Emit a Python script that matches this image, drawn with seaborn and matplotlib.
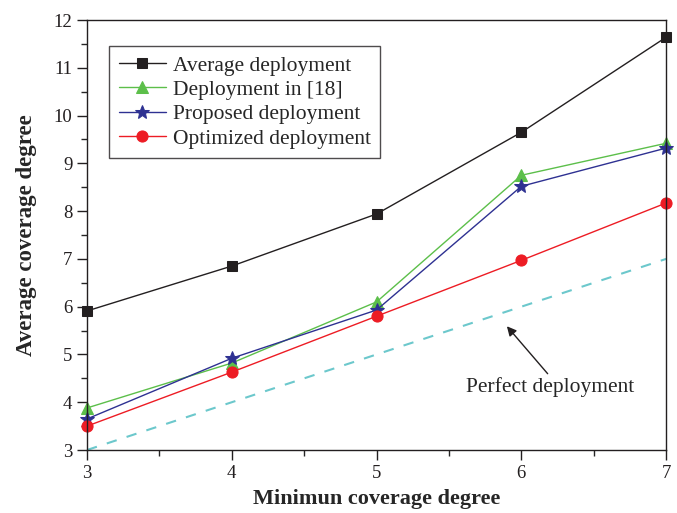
import matplotlib
matplotlib.use("Agg")
import matplotlib.pyplot as plt
import seaborn as sns
from matplotlib.ticker import MultipleLocator

x_vals = [3, 4, 5, 6, 7]
average = [5.91, 6.85, 7.94, 9.65, 11.64]
deploy18 = [3.88, 4.82, 6.10, 8.75, 9.42]
proposed = [3.65, 4.92, 5.93, 8.52, 9.32]
optimized = [3.50, 4.63, 5.80, 6.97, 8.17]
perfect = [3, 4, 5, 6, 7]

labels = ["Average deployment", "Deployment in [18]", "Proposed deployment", "Optimized deployment"]

sns.set_style("ticks")
plt.rcParams['font.family'] = ['Liberation Serif', 'DejaVu Serif']

fig = plt.figure(figsize=(6.77, 5.13), dpi=100)
ax = fig.add_axes([0.1285, 0.1228, 0.8555, 0.8382])

sns.lineplot(x=x_vals, y=average, ax=ax, color="#231f20", marker="s", markersize=7,
             markeredgecolor="#231f20", linewidth=1, label=labels[0], clip_on=False)
sns.lineplot(x=x_vals, y=deploy18, ax=ax, color="#5cbf4a", marker="^", markersize=9,
             markeredgecolor="#5cbf4a", linewidth=1, label=labels[1], clip_on=False)
sns.lineplot(x=x_vals, y=proposed, ax=ax, color="#2e3192", marker="*", markersize=10,
             markeredgecolor="#2e3192", linewidth=1, label=labels[2], clip_on=False)
sns.lineplot(x=x_vals, y=optimized, ax=ax, color="#ed1c24", marker="o", markersize=8,
             markeredgecolor="#ed1c24", linewidth=1, label=labels[3], clip_on=False)
sns.lineplot(x=x_vals, y=perfect, ax=ax, color="#6cc8cc", linestyle=(0, (5, 5)),
             linewidth=1.5, legend=False)

ax.set_xlim(3, 7)
ax.set_ylim(3, 12)
ax.set_xticks([3, 4, 5, 6, 7])
ax.set_yticks(range(3, 13))
ax.xaxis.set_minor_locator(MultipleLocator(0.5))
ax.yaxis.set_minor_locator(MultipleLocator(0.5))
ax.tick_params(which='major', direction='out', length=7, width=1, labelsize=13.5, colors='#231f20')
ax.tick_params(which='minor', direction='out', length=4, width=1)
for s in ax.spines.values():
    s.set_color('#231f20')
    s.set_linewidth(1)

ax.set_xlabel("Minimun coverage degree", fontsize=16, fontweight='bold', labelpad=5)
ax.set_ylabel("Average coverage degree", fontsize=16.5, fontweight='bold', labelpad=12)

leg = ax.legend(loc='upper left', bbox_to_anchor=(0.038, 0.94), fontsize=15.5,
                frameon=True, fancybox=False, edgecolor='#231f20', handlelength=2.2,
                borderpad=0.45, labelspacing=0.2, handletextpad=0.3, borderaxespad=0)
leg.get_frame().set_linewidth(1)

ax.annotate("Perfect deployment", xy=(5.9, 5.59), xytext=(5.62, 4.32),
            fontsize=15.5, va='center', ha='left',
            arrowprops=dict(arrowstyle='-|>', color='#231f20', lw=1, shrinkA=0, shrinkB=0,
                            mutation_scale=14, relpos=(0.5, 1.0)))

fig.savefig("out.png", dpi=100)
